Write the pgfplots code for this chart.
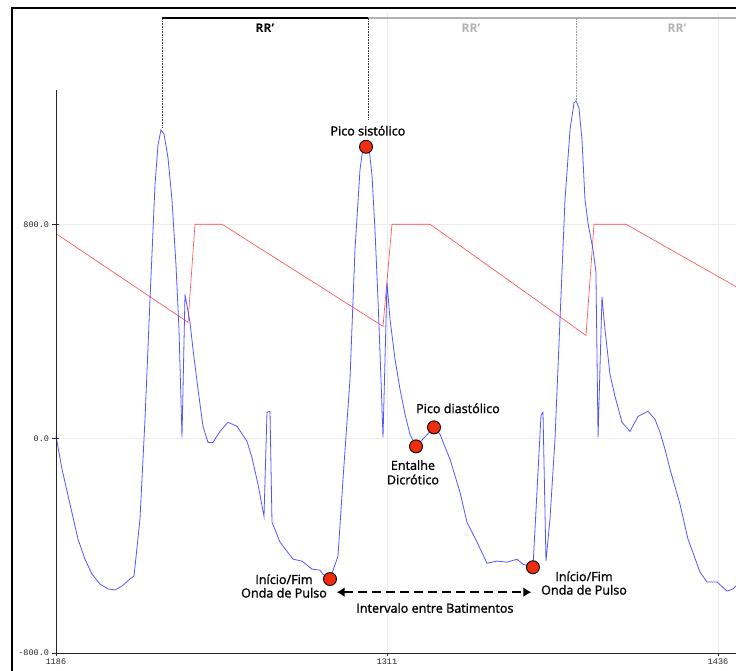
\documentclass[border=0pt]{standalone}
\usepackage{fontspec}
\setmainfont{Open Sans}
\setmonofont{Liberation Mono}
\newfontfamily\lblfont[FakeBold=1.4]{Open Sans}
\usepackage{pgfplots}
\pgfplotsset{compat=1.18}
\usetikzlibrary{arrows.meta}
\definecolor{wave}{RGB}{85,85,255}
\definecolor{saw}{RGB}{255,70,70}
\definecolor{dot}{RGB}{240,45,15}
\begin{document}
\begin{tikzpicture}
\begin{axis}[
  at={(0,0)}, anchor=south west,
  scale only axis, width=680pt, height=641pt,
  xmin=1186, xmax=1442.8, ymin=-800, ymax=1592,
  clip=false,
  axis line style={draw=none},
  tick pos=left,
  xtick={1186,1311,1436}, xticklabels={1186,1311,1436},
  ytick={-800,0,800}, yticklabels={-800.0,0.0,800.0},
  ymajorgrids,
  extra x ticks={1311,1436}, extra x tick labels={},
  extra x tick style={xmajorgrids=true, major tick length=0pt},
  grid style={black!8, line width=0.6pt},
  tick align=center, major tick length=7pt,
  tick style={black!85, line width=0.7pt},
  ticklabel style={font=\ttfamily\fontsize{8.5}{9}\selectfont, text=black!85},
  xticklabel style={yshift=1pt},
]
\addplot[saw, line width=0.6pt] coordinates {
(1186,765) (1235.85,434) (1238.49,800) (1248.69,800) (1309.49,419)
(1312.89,800) (1327.24,800) (1386.15,385) (1389.17,800) (1401.25,800) (1442.8,567)
};
\addplot[wave, line width=0.8pt] coordinates {
(1186.0,9) (1188.27,-114) (1191.29,-245) (1194.31,-375) (1196.95,-450)
(1199.60,-506) (1202.62,-543) (1205.64,-561) (1208.28,-565) (1210.92,-550)
(1213.95,-524) (1215.46,-513) (1217.72,-300) (1219.61,72) (1221.50,519)
(1223.39,947) (1224.52,1096) (1225.65,1152) (1226.78,1137) (1228.29,1048)
(1229.80,891) (1231.31,649) (1232.45,407) (1233.58,5) (1234.72,538)
(1236.60,434) (1237.74,333) (1239.63,184) (1241.51,46) (1243.40,-14)
(1245.29,-14) (1247.93,27) (1250.95,61) (1254.35,46) (1258.13,-10)
(1260.0,-70) (1262.3,-171) (1264.55,-290) (1265.68,98) (1266.82,102)
(1267.57,-312) (1270.59,-386) (1275.50,-450) (1278.90,-457) (1282.68,-487)
(1285.70,-491) (1286.83,-506) (1289.47,-524) (1292.49,-439) (1294.38,-152)
(1297.02,221) (1298.91,705) (1300.80,1003) (1301.93,1085) (1303.07,1108)
(1304.20,1085) (1305.33,984) (1306.46,780) (1307.60,519) (1308.73,221)
(1309.49,5) (1311.00,583) (1312.14,445) (1314.03,296) (1315.92,184)
(1317.80,91) (1319.69,16) (1321.96,-29) (1328.75,42) (1331.02,16)
(1334.80,-77) (1338.57,-200) (1341.21,-312) (1344.99,-386) (1348.76,-465)
(1352.54,-457) (1356.32,-461) (1360.10,-450) (1362.36,-469) (1366.13,-480)
(1369.16,87) (1369.91,98) (1371.04,-457) (1372.55,-300) (1374.44,-3)
(1376.33,444) (1378.22,891) (1380.11,1152) (1381.62,1253) (1382.37,1260)
(1383.50,1234) (1384.64,1115) (1385.77,891) (1387.0,799) (1388.8,705)
(1389.9,623) (1390.7,5) (1392.19,530) (1393.32,407) (1395.21,240)
(1397.10,158) (1399.74,61) (1402.77,27) (1405.79,83) (1409.56,102)
(1412.21,72) (1414.09,24) (1415.98,-40) (1417.87,-114) (1421.65,-245)
(1424.67,-375) (1429.20,-498) (1431.84,-535) (1435.62,-535) (1439.39,-569)
(1441.66,-561) (1442.8,-550)
};
\addplot[only marks, mark=*, mark size=6.5pt, mark options={fill=dot, draw=black, line width=0.9pt}] coordinates {
(1303.07,1089) (1321.96,-29) (1328.75,42) (1289.47,-524) (1366.13,-480)
};
% axis lines
\draw[black!85, line width=0.9pt] (axis cs:1186,1301) -- (axis cs:1186,-800) -- (axis cs:1442.8,-800);
% top brackets
\draw[black, line width=1.3pt] (axis cs:1226,1570) -- (axis cs:1303.8,1570);
\draw[black!30, line width=1.3pt] (axis cs:1303.8,1570) -- (axis cs:1450,1570);
\draw[black!80, densely dotted, line width=0.6pt] (axis cs:1226,1570) -- (axis cs:1226,1160);
\draw[black!80, densely dotted, line width=0.6pt] (axis cs:1303.8,1570) -- (axis cs:1303.8,1189);
\draw[black!40, densely dotted, line width=0.6pt] (axis cs:1382.4,1570) -- (axis cs:1382.4,1264);
\node[font=\bfseries\fontsize{12}{13}\selectfont, text=black] at (axis cs:1264.9,1532) {RR’};
\node[font=\bfseries\fontsize{12}{13}\selectfont, text=black!30] at (axis cs:1342.7,1532) {RR’};
\node[font=\bfseries\fontsize{12}{13}\selectfont, text=black!30] at (axis cs:1420.5,1532) {RR’};
% annotations
\node[font=\lblfont\fontsize{12.6}{14}\selectfont] at (axis cs:1303.8,1149) {Pico sistólico};
\node[font=\lblfont\fontsize{12.6}{14}\selectfont] at (axis cs:1337.8,113) {Pico diastólico};
\node[font=\lblfont\fontsize{12.6}{14.5}\selectfont, align=center] at (axis cs:1320.8,-126) {Entalhe\\Dicrótico};
\node[font=\lblfont\fontsize{12.6}{13.5}\selectfont, align=center] at (axis cs:1272.1,-550) {Início/Fim\\Onda de Pulso};
\node[font=\lblfont\fontsize{12.6}{13.5}\selectfont, align=center] at (axis cs:1385.4,-539) {Início/Fim\\Onda de Pulso};
\draw[black, line width=2.2pt, dash pattern=on 9pt off 5pt, {Latex[length=8pt,width=10pt]}-{Latex[length=8pt,width=10pt]}] (axis cs:1292.0,-573) -- (axis cs:1365.5,-573);
\node[font=\lblfont\fontsize{12.6}{14}\selectfont] at (axis cs:1329.1,-632) {Intervalo entre Batimentos};
\end{axis}
\draw[black, line width=1.8pt] (-44pt,-40pt) -- (-44pt,645pt) -- (720pt,645pt);
\pgfresetboundingbox
\useasboundingbox (-56pt,-18pt) rectangle (680pt,653pt);
\end{tikzpicture}
\end{document}
